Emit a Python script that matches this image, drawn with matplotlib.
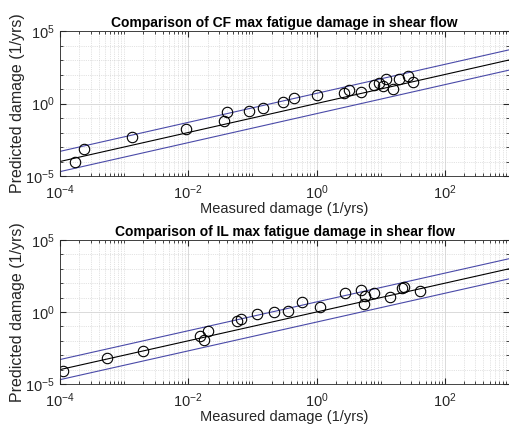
import numpy as np
import matplotlib
matplotlib.use('Agg')
import matplotlib.pyplot as plt
from matplotlib.ticker import FixedLocator, LogLocator, NullFormatter

plt.rcParams['font.family'] = ['Liberation Sans', 'DejaVu Sans']

# CF data (log10 values)
cf_log_measured = [-3.76, -3.62, -2.88, -2.03, -1.45, -1.39, -1.06, -0.83, -0.53, -0.35, 0.01,
                   0.42, 0.50, 0.70, 0.89, 0.97, 1.04, 1.08, 1.19, 1.29, 1.42, 1.51]
cf_log_predicted = [-4.02, -3.13, -2.30, -1.79, -1.22, -0.57, -0.53, -0.30, 0.07, 0.38, 0.57,
                    0.69, 0.93, 0.78, 1.31, 1.38, 1.20, 1.67, 1.02, 1.71, 1.88, 1.50]

# IL data
il_log_measured = [-3.95, -3.27, -2.70, -1.81, -1.75, -1.69, -1.24, -1.18, -0.93, -0.66, -0.45,
                   -0.23, 0.05, 0.45, 0.70, 0.74, 0.76, 0.89, 1.14, 1.33, 1.37, 1.61]
il_log_predicted = [-4.12, -3.19, -2.73, -1.67, -1.92, -1.34, -0.65, -0.46, -0.14, 0.00, 0.10,
                    0.69, 0.33, 1.31, 1.53, 0.58, 1.12, 1.31, 1.02, 1.70, 1.71, 1.43]

line_x = [1e-4, 1e3]
band_factor = 5.0

titles = ['Comparison of CF max fatigue damage in shear flow',
          'Comparison of IL max fatigue damage in shear flow']

fig = plt.figure(figsize=(5.09, 4.25), dpi=100)
ax1 = fig.add_axes([60 / 509, 1 - 176 / 425, 449 / 509, 145 / 425])
ax2 = fig.add_axes([60 / 509, 1 - 384 / 425, 449 / 509, 144 / 425])

datasets = [(cf_log_measured, cf_log_predicted), (il_log_measured, il_log_predicted)]

for ax, (lx, ly), title in zip([ax1, ax2], datasets, titles):
    x = 10 ** np.array(lx)
    y = 10 ** np.array(ly)
    lx_arr = np.array(line_x)
    ax.plot(lx_arr, lx_arr, color='black', lw=0.8)
    ax.plot(lx_arr, lx_arr * band_factor, color='#4a4aa8', lw=0.8)
    ax.plot(lx_arr, lx_arr / band_factor, color='#4a4aa8', lw=0.8)
    ax.plot(x, y, 'o', mfc='none', mec='black', ms=7.5, mew=0.8)
    ax.set_xscale('log')
    ax.set_yscale('log')
    ax.set_xlim(1e-4, 1e3)
    ax.set_ylim(1e-5, 1e5)
    ax.set_xticks([1e-4, 1e-2, 1e0, 1e2])
    ax.xaxis.set_minor_locator(LogLocator(base=10, subs=np.arange(1, 10), numticks=50))
    ax.xaxis.set_minor_formatter(NullFormatter())
    ax.set_yticks([1e-5, 1e0, 1e5])
    ax.yaxis.set_minor_locator(FixedLocator([10.0 ** k for k in range(-5, 6)]))
    ax.yaxis.set_minor_formatter(NullFormatter())
    ax.grid(True, which='major', color='#d4d4d4', lw=0.6, ls='-')
    ax.grid(True, which='minor', color='#c8c8c8', lw=0.5, ls=':')
    ax.set_axisbelow(True)
    ax.tick_params(which='both', direction='in', top=True, right=True, labelsize=10.5, colors='#262626')
    ax.tick_params(axis='x', which='major', pad=5)
    ax.tick_params(which='major', length=4)
    ax.tick_params(which='minor', length=2)
    for s in ax.spines.values():
        s.set_color('#262626')
        s.set_linewidth(0.6)
    ax.set_title(title, fontsize=10, fontweight='bold', pad=3)
    ax.set_xlabel('Measured damage (1/yrs)', fontsize=10.5, color='#262626', labelpad=0)
    ax.set_ylabel('Predicted damage (1/yrs)', fontsize=11.5, color='#262626', labelpad=0)

fig.savefig('out.png', dpi=100)
